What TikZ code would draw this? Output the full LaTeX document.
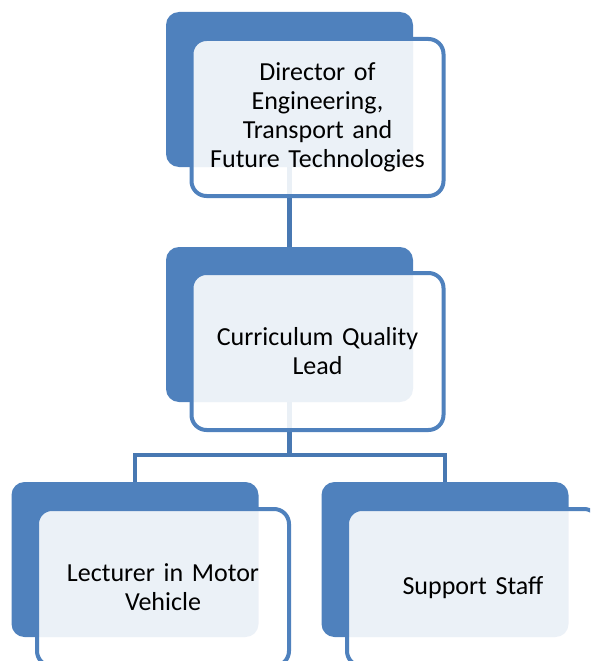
\documentclass[tikz,border=0pt]{standalone}
\usepackage{fontspec}
\setmainfont{Carlito}
\usetikzlibrary{positioning,calc}
\definecolor{accentblue}{RGB}{79,129,189}
\definecolor{linkblue}{RGB}{72,120,178}
\tikzset{
	backbox/.style={rectangle, rounded corners=13pt, fill=accentblue, minimum width=247pt, minimum height=155pt, inner sep=0pt},
	frontbox/.style={rectangle, rounded corners=15pt, draw=accentblue, line width=4pt, fill=white, fill opacity=0.89, text opacity=1,
		minimum width=252pt, minimum height=157pt, text width=240pt, align=center, inner sep=0pt, font=\fontsize{26}{29}\selectfont},
	link/.style={draw=linkblue, line width=4.5pt}
}
\begin{document}
\begin{tikzpicture}[x=1pt, y=-1pt]
			\clip (0,0) rectangle (590,661);
			\useasboundingbox (0,0) rectangle (590,661);
			\def\dx{28}
			\def\dy{28}
			% solid back shapes
			\foreach \name/\xc/\yc in {dirB/289.5/89.5, cqlB/289.5/324.5, lecB/135/559.5, supB/445/559.5} {
				\node[backbox] (\name) at (\xc,\yc) {};
			}
			% connectors
			\draw[link] (dirB.south) -- (cqlB.north);
			\draw[link] (cqlB.south) -- ++(0,53) coordinate (bar) -| (lecB.north);
			\draw[link] (bar) -| (supB.north);
			% front boxes with the titles
			\node[frontbox] (dir) at ($(dirB.center)+(\dx,\dy)$) {Director of\\Engineering,\\Transport and\\Future Technologies};
			\node[frontbox] (cql) at ($(cqlB.center)+(\dx,\dy-1)$) {Curriculum Quality\\Lead};
			\node[frontbox] (lec) at ($(lecB.center)+(\dx,\dy)$) {Lecturer in Motor\\Vehicle};
			\node[frontbox] (sup) at ($(supB.center)+(\dx,\dy)$) {Support Staff};
\end{tikzpicture}
\end{document}
